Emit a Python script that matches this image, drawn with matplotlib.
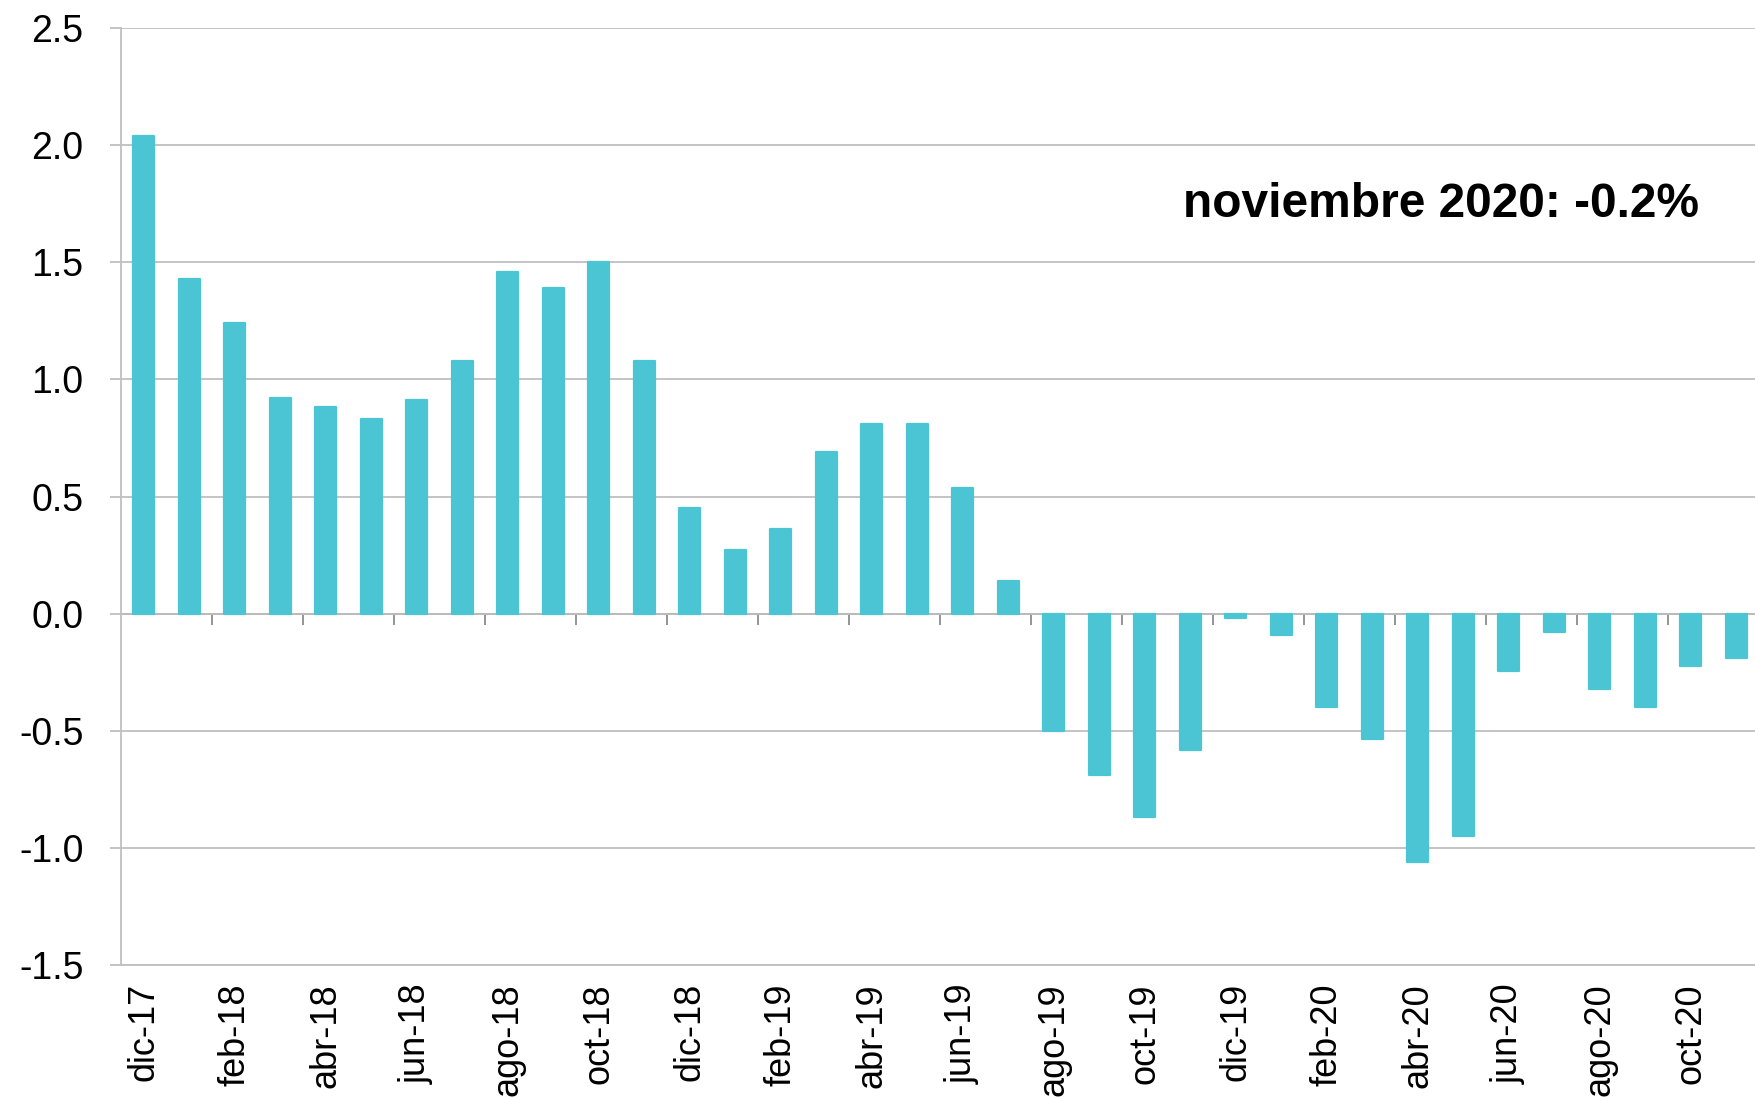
import numpy as np
import matplotlib.pyplot as plt

plt.rcParams['font.family'] = ['Liberation Sans', 'DejaVu Sans']

meses = ['dic-17', 'ene-18', 'feb-18', 'mar-18', 'abr-18', 'may-18', 'jun-18',
         'jul-18', 'ago-18', 'sep-18', 'oct-18', 'nov-18', 'dic-18', 'ene-19',
         'feb-19', 'mar-19', 'abr-19', 'may-19', 'jun-19', 'jul-19', 'ago-19',
         'sep-19', 'oct-19', 'nov-19', 'dic-19', 'ene-20', 'feb-20', 'mar-20',
         'abr-20', 'may-20', 'jun-20', 'jul-20', 'ago-20', 'sep-20', 'oct-20',
         'nov-20']
valores = [2.04, 1.43, 1.24, 0.92, 0.88, 0.83, 0.91, 1.08, 1.46, 1.39, 1.50,
           1.08, 0.45, 0.27, 0.36, 0.69, 0.81, 0.81, 0.535, 0.14, -0.50, -0.69,
           -0.87, -0.58, -0.02, -0.09, -0.40, -0.535, -1.06, -0.95, -0.245,
           -0.08, -0.32, -0.40, -0.225, -0.19]
yticks = [-1.5, -1.0, -0.5, 0.0, 0.5, 1.0, 1.5, 2.0, 2.5]
nota = 'noviembre 2020: -0.2%'

gris = '#bfbfbf'
x = np.arange(len(meses))

fig = plt.figure(figsize=(17.56, 10.98), dpi=100)
ax = fig.add_axes([0.0689, 0.1211, 0.9311 + 0.003, 0.8534])

ax.bar(x, valores, width=0.47, color='#4bc4d3', edgecolor='#4bc4d3',
       linewidth=1.6, joinstyle='round', zorder=3)

ax.set_xlim(-0.5, len(meses) - 0.5 + 0.05)
ax.set_ylim(-1.5, 2.5)
ax.set_yticks(yticks)
ax.set_yticklabels([f'{v:.1f}' for v in yticks])
ax.yaxis.grid(True, color=gris, linewidth=1.3, zorder=0)
ax.tick_params(axis='y', length=8, width=1.3, color=gris, pad=19, labelsize=27)

ax.set_xticks(x[::2])
ax.set_xticklabels(meses[::2], rotation=90, va='top', ha='center')
ax.tick_params(axis='x', length=0, pad=13, labelsize=26)

for s in ['top', 'right']:
    ax.spines[s].set_visible(False)
for s in ['left', 'bottom']:
    ax.spines[s].set_color(gris)
    ax.spines[s].set_linewidth(1.3)

# eje en cero con marcas cada dos meses
sec = ax.secondary_xaxis(1.5 / 4.0)
sec.set_xticks(np.arange(-0.5, len(meses), 2)[1:])
sec.set_xticklabels([])
sec.tick_params(length=8, width=1.3, color='#8c8c8c', direction='out')
sec.spines['bottom'].set_color('#8c8c8c')
sec.spines['bottom'].set_linewidth(1.3)

ax.text(0.805, 0.812, nota, transform=ax.transAxes, fontsize=34.5,
        fontweight='bold', ha='center', va='center')

fig.savefig('out.png', dpi=100)
